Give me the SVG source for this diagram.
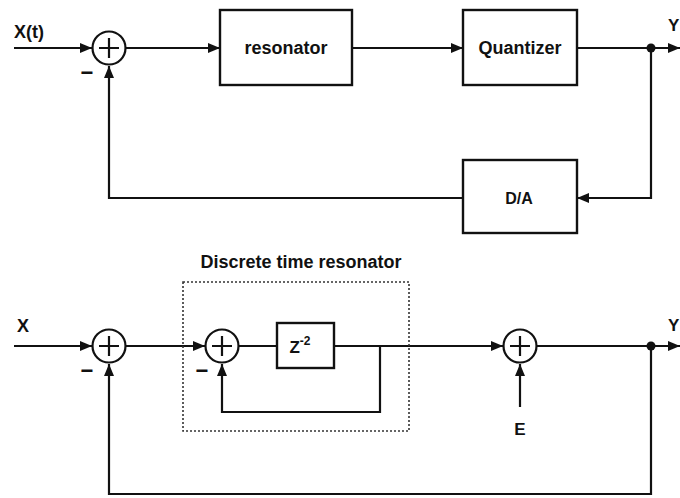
<svg xmlns="http://www.w3.org/2000/svg" width="680" height="498" viewBox="0 0 680 498">
<style>
.ln{fill:none;stroke:#111;stroke-width:2.2}
.bx{fill:#fff;stroke:#111;stroke-width:2.4}
.sum{fill:#fff;stroke:#111;stroke-width:2.2}
.t{font-family:"Liberation Sans",Arial,sans-serif;font-weight:bold;fill:#111}
.m{font-family:"Liberation Sans",Arial,sans-serif;font-weight:bold;fill:#111;font-size:22px;text-anchor:middle}
.dot{fill:#111}
</style>
<defs>
<marker id="ah" viewBox="0 0 12 10" refX="12" refY="5" markerWidth="12" markerHeight="10" markerUnits="userSpaceOnUse" orient="auto">
<path d="M0,0 L12,5 L0,10 Z" fill="#111"/>
</marker>
</defs>
<rect width="680" height="498" fill="#fff"/>
<g id="connectors">
<line class="ln" x1="14" y1="48" x2="92" y2="48" marker-end="url(#ah)"/>
<line class="ln" x1="126" y1="48" x2="220" y2="48" marker-end="url(#ah)"/>
<line class="ln" x1="352" y1="48" x2="463" y2="48" marker-end="url(#ah)"/>
<line class="ln" x1="577" y1="48" x2="680" y2="48" marker-end="url(#ah)"/>
<polyline class="ln" points="651,48 651,198 577,198" marker-end="url(#ah)"/>
<polyline class="ln" points="463,198 109,198 109,66" marker-end="url(#ah)"/>
<line class="ln" x1="14" y1="346" x2="92" y2="346" marker-end="url(#ah)"/>
<line class="ln" x1="126" y1="346" x2="205" y2="346" marker-end="url(#ah)"/>
<line class="ln" x1="239" y1="346" x2="277" y2="346"/>
<line class="ln" x1="334" y1="346" x2="503" y2="346" marker-end="url(#ah)"/>
<polyline class="ln" points="380,346 380,412 222,412 222,364" marker-end="url(#ah)"/>
<line class="ln" x1="520" y1="407" x2="520" y2="364" marker-end="url(#ah)"/>
<line class="ln" x1="537" y1="346" x2="680" y2="346" marker-end="url(#ah)"/>
<polyline class="ln" points="651,346 651,494 109,494 109,364" marker-end="url(#ah)"/>
<circle class="dot" cx="651" cy="48" r="4.5"/>
<circle class="dot" cx="651" cy="346" r="4.5"/>
</g>
<g id="sum1">
<circle class="sum" cx="109" cy="48" r="16.5"/>
<path class="ln" d="M99,48 H119 M109,38 V58"/>
<text class="m" x="87" y="80">−</text>
</g>
<g id="resonator">
<rect class="bx" x="220" y="10" width="132" height="75"/>
<text class="t" x="286" y="54" font-size="18" text-anchor="middle">resonator</text>
</g>
<g id="quantizer">
<rect class="bx" x="463" y="10" width="114" height="75"/>
<text class="t" x="520" y="54" font-size="18" text-anchor="middle">Quantizer</text>
</g>
<g id="da">
<rect class="bx" x="463" y="160" width="114" height="73"/>
<text class="t" x="519" y="204" font-size="16" text-anchor="middle">D/A</text>
</g>
<g id="labels-top">
<text class="t" x="14" y="38" font-size="18">X(t)</text>
<text class="t" x="668" y="31" font-size="17">Y</text>
</g>
<g id="resonator-box">
<rect x="183" y="282" width="226" height="149" fill="none" stroke="#333" stroke-width="1.6" stroke-dasharray="2,2"/>
<text class="t" x="301" y="268" font-size="18" text-anchor="middle">Discrete time resonator</text>
</g>
<g id="sum2">
<circle class="sum" cx="109" cy="346" r="16.5"/>
<path class="ln" d="M99,346 H119 M109,336 V356"/>
<text class="m" x="87" y="378">−</text>
</g>
<g id="sum3">
<circle class="sum" cx="222" cy="346" r="16.5"/>
<path class="ln" d="M212,346 H232 M222,336 V356"/>
<text class="m" x="202" y="378">−</text>
</g>
<g id="delay">
<rect class="bx" x="277" y="323" width="57" height="45"/>
<text class="t" x="300" y="353" font-size="17" text-anchor="middle">Z<tspan font-size="12" dy="-8">-2</tspan></text>
</g>
<g id="sum4">
<circle class="sum" cx="520" cy="346" r="16.5"/>
<path class="ln" d="M510,346 H530 M520,336 V356"/>
</g>
<g id="labels-bottom">
<text class="t" x="17" y="332" font-size="18">X</text>
<text class="t" x="668" y="331" font-size="17">Y</text>
<text class="t" x="520" y="435" font-size="17" text-anchor="middle">E</text>
</g>
</svg>
